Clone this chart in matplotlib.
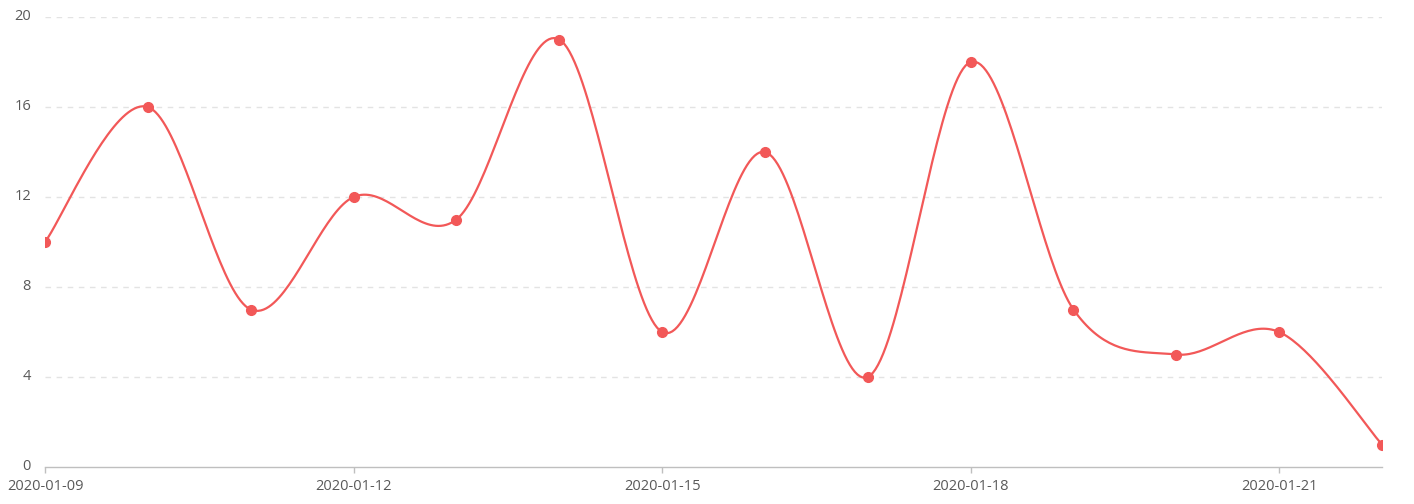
import numpy as np
import matplotlib
matplotlib.use("Agg")
import matplotlib.pyplot as plt
import matplotlib.dates as mdates
import datetime as dt

dates = ["2020-01-09", "2020-01-10", "2020-01-11", "2020-01-12", "2020-01-13",
         "2020-01-14", "2020-01-15", "2020-01-16", "2020-01-17", "2020-01-18",
         "2020-01-19", "2020-01-20", "2020-01-21", "2020-01-22"]
values = [10, 16, 7, 12, 11, 19, 6, 14, 4, 18, 7, 5, 6, 1]
xtick_labels = ["2020-01-09", "2020-01-12", "2020-01-15", "2020-01-18", "2020-01-21"]
yticks = [0, 4, 8, 12, 16, 20]

plt.rcParams['font.family'] = ['Open Sans', 'DejaVu Sans']

x = np.array([mdates.date2num(dt.datetime.strptime(d, "%Y-%m-%d")) for d in dates])
y = np.array(values, dtype=float)

def catmull_rom(px, py, n=40):
    P = np.column_stack([px, py])
    P = np.vstack([P[0], P, P[-1]])
    out = []
    for i in range(1, len(P) - 2):
        p0, p1, p2, p3 = P[i - 1], P[i], P[i + 1], P[i + 2]
        t = np.linspace(0, 1, n, endpoint=False)[:, None]
        seg = 0.5 * ((2 * p1) + (-p0 + p2) * t + (2 * p0 - 5 * p1 + 4 * p2 - p3) * t ** 2
                     + (-p0 + 3 * p1 - 3 * p2 + p3) * t ** 3)
        out.append(seg)
    out.append(P[-2][None, :])
    out = np.vstack(out)
    return out[:, 0], out[:, 1]

sx, sy = catmull_rom(x, y)

fig = plt.figure(figsize=(14.14, 5.04), dpi=100)
ax = fig.add_axes([45 / 1414, 37 / 504, (1382 - 45) / 1414, 450 / 504])

color = "#F25858"
ax.plot(sx, sy, color=color, lw=1.6, zorder=3, solid_capstyle='round')
ax.plot(x, y, 'o', color=color, ms=7, zorder=4)

ax.set_xlim(x[0], x[-1])
ax.set_ylim(0, 20)
ax.set_yticks(yticks)
ax.set_yticklabels([str(v) for v in yticks])
tick_pos = [mdates.date2num(dt.datetime.strptime(d, "%Y-%m-%d")) for d in xtick_labels]
ax.set_xticks(tick_pos)
ax.set_xticklabels(xtick_labels)

for v in yticks[1:]:
    ax.axhline(v, color="#E3E3E3", lw=1, ls=(0, (4, 4)), zorder=1)

for s in ["top", "right", "left"]:
    ax.spines[s].set_visible(False)
ax.spines["bottom"].set_color("#BFBFBF")
ax.spines["bottom"].set_linewidth(1)

ax.tick_params(axis='y', length=0, pad=10, labelsize=10.5, labelcolor="#595959")
ax.tick_params(axis='x', length=4, width=1, color="#BFBFBF", pad=5, labelsize=10.5, labelcolor="#595959")
for lbl in ax.get_yticklabels():
    lbl.set_verticalalignment('center')

fig.savefig("out.png", dpi=100)
